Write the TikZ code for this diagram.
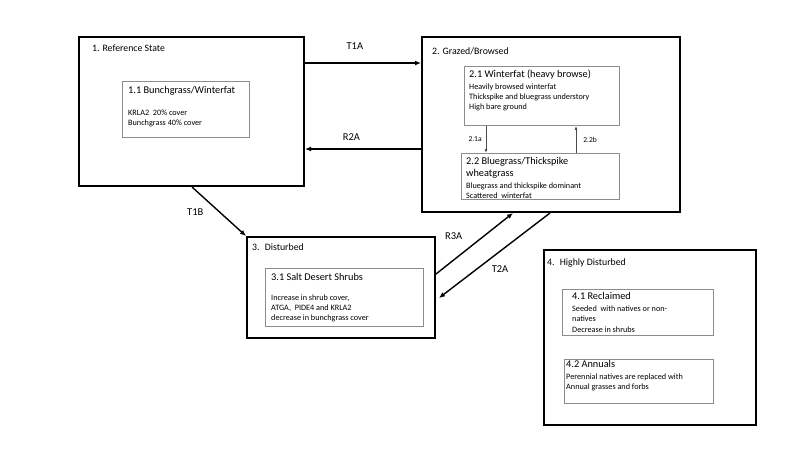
\documentclass[tikz,border=0pt]{standalone}
\usepackage{fontspec}
\setmainfont{Carlito}
\usetikzlibrary{arrows.meta, calc}

\begin{document}
\begin{tikzpicture}[x = 1pt, y = -1pt, > = {Latex[length = 6pt, width = 5pt]},
	statebox/.style = {draw, line width = 2pt, anchor = north west, inner sep = 0pt},
	phasebox/.style = {draw = black!45, line width = 0.9pt, anchor = north west, inner sep = 0pt},
	statetext/.style = {anchor = north west, inner sep = 0pt, font = \fontsize{9.8}{11}\selectfont},
	boxtext/.style = {anchor = north west, inner sep = 0pt, align = left, font = \fontsize{8.2}{10.3}\selectfont},
	move/.style = {->, line width = 1.4pt},
	movetext/.style = {inner sep = 0pt, font = \fontsize{10.5}{12}\selectfont},
	pathway/.style = {->, draw = black!70, line width = 0.8pt, > = {Latex[length = 4pt, width = 3pt]}},
	pathtext/.style = {inner sep = 0pt, font = \fontsize{7.5}{9}\selectfont}]

	% Page frame
	
	\useasboundingbox (0, 0) rectangle (800, 450);
	
	\def\ttl{\fontsize{10.3}{11.5}\selectfont}	% Phase titles
	
	% Draw states
	
	\node [statebox, minimum width = 225pt, minimum height = 149pt] (s1) at (78, 36) {};
	\node [statebox, minimum width = 258pt, minimum height = 175pt] (s2) at (421, 36) {};
	\node [statebox, minimum width = 188pt, minimum height = 101pt] (s3) at (246, 236) {};
	\node [statebox, minimum width = 212pt, minimum height = 175pt] (s4) at (543, 249) {};
	
	\node [statetext] (s1name) at ($(s1.north west) + (14, 8.5)$) {1. Reference State};
	\node [statetext] (s2name) at ($(s2.north west) + (11, 11.5)$) {2. Grazed/Browsed};
	\node [statetext] (s3name) at ($(s3.north west) + (6, 7.5)$) {3.~ Disturbed};
	\node [statetext] (s4name) at ($(s4.north west) + (4, 9.5)$) {4.~ Highly Disturbed};
	
	% Draw phases
	
	\node [phasebox, minimum width = 127pt, minimum height = 56pt] (p11) at (122, 81) {};
	\node [phasebox, minimum width = 155pt, minimum height = 59pt] (p21) at (464, 66) {};
	\node [phasebox, minimum width = 158pt, minimum height = 46pt] (p22) at (461, 153) {};
	\node [phasebox, minimum width = 158pt, minimum height = 58pt] (p31) at (265, 268) {};
	\node [phasebox, minimum width = 151pt, minimum height = 46pt] (p41) at (562, 289) {};
	\node [phasebox, minimum width = 149pt, minimum height = 44pt] (p42) at (564, 359) {};
	
	\node [boxtext] (p11text) at ($(p11.north west) + (6, 5.5)$)
		{{\ttl 1.1 Bunchgrass/Winterfat}\\[11pt] KRLA2~ 20\% cover\\ Bunchgrass 40\% cover};
	\node [boxtext] (p21text) at ($(p21.north west) + (5, 3.5)$)
		{{\ttl 2.1 Winterfat (heavy browse)}\\[1.5pt] Heavily browsed winterfat\\ Thickspike and bluegrass understory\\ High bare ground};
	\node [boxtext] (p22text) at ($(p22.north west) + (5, 4.5)$)
		{{\ttl 2.2 Bluegrass/Thickspike}\\[1.5pt] {\ttl wheatgrass}\\[1.5pt] Bluegrass and thickspike dominant\\ Scattered~ winterfat};
	\node [boxtext] (p31text) at ($(p31.north west) + (6, 5.5)$)
		{{\ttl 3.1 Salt Desert Shrubs}\\[9pt] Increase in shrub cover,\\ ATGA,~ PIDE4 and KRLA2\\ decrease in bunchgrass cover};
	\node [boxtext] (p41text) at ($(p41.north west) + (10, 3.5)$)
		{{\ttl 4.1 Reclaimed}\\[1.5pt] Seeded~ with natives or non-\\ natives\\ Decrease in shrubs};
	\node [boxtext] (p42text) at ($(p42.north west) + (2, 1.5)$)
		{{\ttl 4.2 Annuals}\\[1.5pt] Perennial natives are replaced with\\ Annual grasses and forbs};
	
	% Draw transitions between states
	
	\draw [move] ($(s1.north east) + (0, 27)$) -- node [movetext, pos = 0.43, above = 13pt] (t1a) {T1A} ($(s2.north west) + (0, 27)$);
	\draw [move] ($(s2.north west) + (0, 113)$) -- node [movetext, pos = 0.6, above = 8pt] (r2a) {R2A} ($(s1.north east) + (0, 113)$);
	\draw [move] ($(s1.south west) + (114, 0)$) -- node [movetext, pos = 0.52, left = 16pt] (t1b) {T1B} (s3.north west);
	\draw [move] ($(s3.north east) + (0, 38)$) -- node [movetext, pos = 0.23, above = 20pt] (r3a) {R3A} ($(s2.south west) + (92, 0)$);
	\draw [move] ($(s2.south west) + (129, 0)$) -- node [movetext, pos = 0.45, below = 14pt] (t2a) {T2A} ($(s3.north east) + (3, 62)$);
	
	% Draw pathways between phases
	
	\draw [pathway] ($(p21.south west) + (22, 0)$) -- node [pathtext, left = 4pt] (l21a) {2.1a} ($(p22.north west) + (25, 0)$);
	\draw [pathway] ($(p22.north west) + (115, 0)$) -- node [pathtext, right = 7pt] (l22b) {2.2b} ($(p21.south west) + (112, 0)$);
	
\end{tikzpicture}
\end{document}
